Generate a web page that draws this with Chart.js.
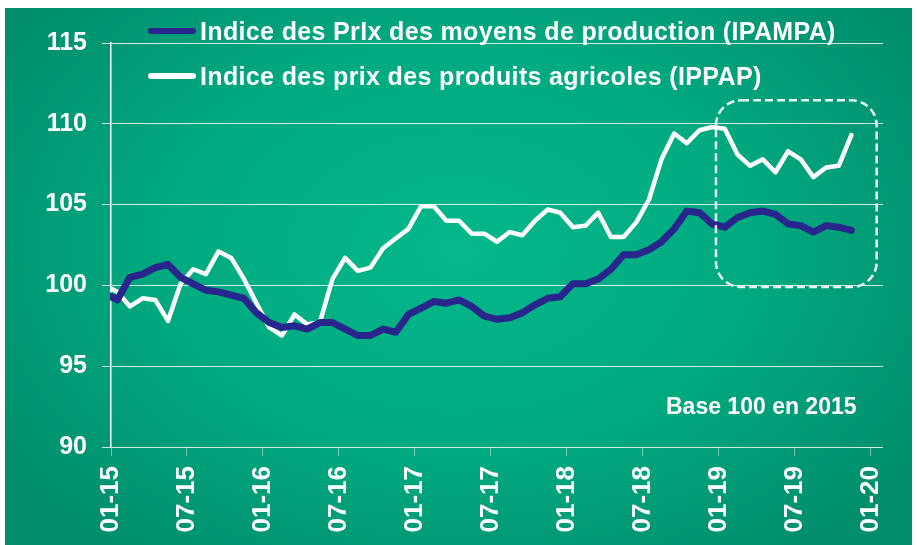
<!DOCTYPE html>
<html>
<head>
    <title>IPAMPA / IPPAP</title>
    <style>
        body { margin: 0; background: #fff; font-family: "Liberation Sans", Arial, sans-serif; }
        #frame { position: absolute; left: 5px; top: 8px; width: 907px; height: 537px;
                 background: radial-gradient(ellipse 60% 70% at 50% 45%, #03b88a 0%, #01a97f 55%, #008e6b 100%); }
        #wrap { position: absolute; left: 0; top: 0; width: 917px; height: 545px; }
        .leg { position: absolute; left: 148px; height: 30px; line-height: 30px; color: #fff;
               font-weight: bold; font-size: 25px; letter-spacing: 0.35px; white-space: nowrap; }
        .leg .swatch { position: absolute; left: 0; top: 12px; width: 48px; height: 6px; border-radius: 3px; }
        .leg .txt { position: absolute; left: 52px; top: 0; }
        #base { position: absolute; left: 666px; top: 393px; color: #fff; font-weight: bold; font-size: 23px; white-space: nowrap; }
    </style>
</head>
<body>
    <div id="frame"></div>
    <div id="wrap"><canvas id="chart" width="917" height="545"></canvas></div>
    <div class="leg" style="top:16px"><span class="swatch" style="background:#28268c"></span><span class="txt">Indice des PrIx des moyens de production (IPAMPA)</span></div>
    <div class="leg" style="top:61px"><span class="swatch" style="background:#fff"></span><span class="txt">Indice des prix des produits agricoles (IPPAP)</span></div>
    <div id="base">Base 100 en 2015</div>

    <script src="https://cdn.jsdelivr.net/npm/chart.js"></script>
    <script>
        // monthly values, Dec-14 .. Nov-19 (Dec-14 only shows as the line entering at the axis)
        const months = ['12-14',
            '01-15','02-15','03-15','04-15','05-15','06-15','07-15','08-15','09-15','10-15','11-15','12-15',
            '01-16','02-16','03-16','04-16','05-16','06-16','07-16','08-16','09-16','10-16','11-16','12-16',
            '01-17','02-17','03-17','04-17','05-17','06-17','07-17','08-17','09-17','10-17','11-17','12-17',
            '01-18','02-18','03-18','04-18','05-18','06-18','07-18','08-18','09-18','10-18','11-18','12-18',
            '01-19','02-19','03-19','04-19','05-19','06-19','07-19','08-19','09-19','10-19','11-19'];

        const ipampa = [99.5,
            99.1, 100.5, 100.7, 101.1, 101.3, 100.5, 100.1, 99.7, 99.6, 99.4, 99.2, 98.3,
            97.7, 97.4, 97.5, 97.3, 97.7, 97.7, 97.3, 96.9, 96.9, 97.3, 97.1, 98.2,
            98.6, 99.0, 98.9, 99.1, 98.7, 98.1, 97.9, 98.0, 98.3, 98.8, 99.2, 99.3,
            100.1, 100.1, 100.4, 101.0, 101.9, 101.9, 102.2, 102.7, 103.5, 104.6, 104.5, 103.8,
            103.6, 104.2, 104.5, 104.6, 104.4, 103.8, 103.7, 103.3, 103.7, 103.6, 103.4];

        const ippap = [100.0,
            99.6, 98.7, 99.2, 99.1, 97.8, 100.1, 101.0, 100.7, 102.1, 101.7, 100.4, 98.9,
            97.4, 96.9, 98.2, 97.6, 97.7, 100.4, 101.7, 100.9, 101.1, 102.3, 102.9, 103.5,
            104.9, 104.9, 104.0, 104.0, 103.2, 103.2, 102.7, 103.3, 103.1, 104.0, 104.7, 104.5,
            103.6, 103.7, 104.5, 103.0, 103.0, 103.9, 105.3, 107.8, 109.4, 108.8, 109.6, 109.8,
            109.7, 108.1, 107.4, 107.8, 107.0, 108.3, 107.8, 106.7, 107.3, 107.4, 109.3];

        const tickLabels = ['01-15','07-15','01-16','07-16','01-17','07-17','01-18','07-18','01-19','07-19','01-20'];
        const tickMonths = [0, 6, 12, 18, 24, 30, 36, 42, 48, 54, 60];

        // month index -> centre of its slot on the axis (Jan-15 slot spans 0..1)
        const toPoints = arr => arr.map((v, i) => ({ x: i - 0.5, y: v }));

        // dashed rounded box around 2019
        const focusBox = {
            id: 'focusBox',
            afterDatasetsDraw(chart) {
                const { ctx, scales: { x, y } } = chart;
                const l = x.getPixelForValue(47.8), r = x.getPixelForValue(60.5);
                const t = y.getPixelForValue(111.45), b = y.getPixelForValue(99.9);
                ctx.save();
                ctx.strokeStyle = 'rgba(255,255,255,0.92)';
                ctx.lineWidth = 2.5;
                ctx.setLineDash([8, 4]);
                ctx.beginPath();
                ctx.roundRect(l, t, r - l, b - t, 25);
                ctx.stroke();
                ctx.restore();
            }
        };

        const ctx = document.getElementById('chart').getContext('2d');
        const chart = new Chart(ctx, {
            type: 'line',
            data: {
                datasets: [{
                    label: 'Indice des PrIx des moyens de production (IPAMPA)',
                    data: toPoints(ipampa),
                    borderColor: '#28268c',
                    borderWidth: 7,
                    pointRadius: 0,
                    tension: 0,
                    borderJoinStyle: 'round',
                    borderCapStyle: 'round',
                    clip: { left: 1, top: 10, right: 10, bottom: 10 }
                }, {
                    label: 'Indice des prix des produits agricoles (IPPAP)',
                    data: toPoints(ippap),
                    borderColor: '#ffffff',
                    borderWidth: 4.5,
                    pointRadius: 0,
                    tension: 0,
                    borderJoinStyle: 'round',
                    borderCapStyle: 'round',
                    clip: { left: 1, top: 10, right: 10, bottom: 10 }
                }]
            },
            options: {
                responsive: false,
                animation: false,
                layout: { padding: { left: 0, top: 43, right: 34, bottom: 0 } },
                plugins: { legend: { display: false }, tooltip: { enabled: false } },
                scales: {
                    x: {
                        type: 'linear',
                        min: 0,
                        max: 61,
                        afterBuildTicks: s => { s.ticks = tickMonths.map(v => ({ value: v })); },
                        afterFit: s => { s.height = 98; },
                        grid: { drawOnChartArea: false, drawTicks: true, tickLength: 9, color: 'rgba(255,255,255,0.45)' },
                        border: { display: false },
                        ticks: {
                            autoSkip: false,
                            minRotation: 90,
                            maxRotation: 90,
                            padding: 10,
                            color: '#fff',
                            font: { family: 'Liberation Sans', size: 26, weight: 'bold' },
                            callback: v => tickLabels[tickMonths.indexOf(v)]
                        }
                    },
                    y: {
                        min: 90,
                        max: 115,
                        afterFit: s => { s.width = 111; },
                        grid: { color: 'rgba(255,255,255,0.8)', lineWidth: 1, tickLength: 9 },
                        border: { display: true, color: '#fff', width: 1.5 },
                        ticks: {
                            stepSize: 5,
                            padding: 15,
                            color: '#fff',
                            font: { family: 'Liberation Sans', size: 25, weight: 'bold' }
                        }
                    }
                }
            },
            plugins: [focusBox]
        });
    </script>
</body>
</html>
